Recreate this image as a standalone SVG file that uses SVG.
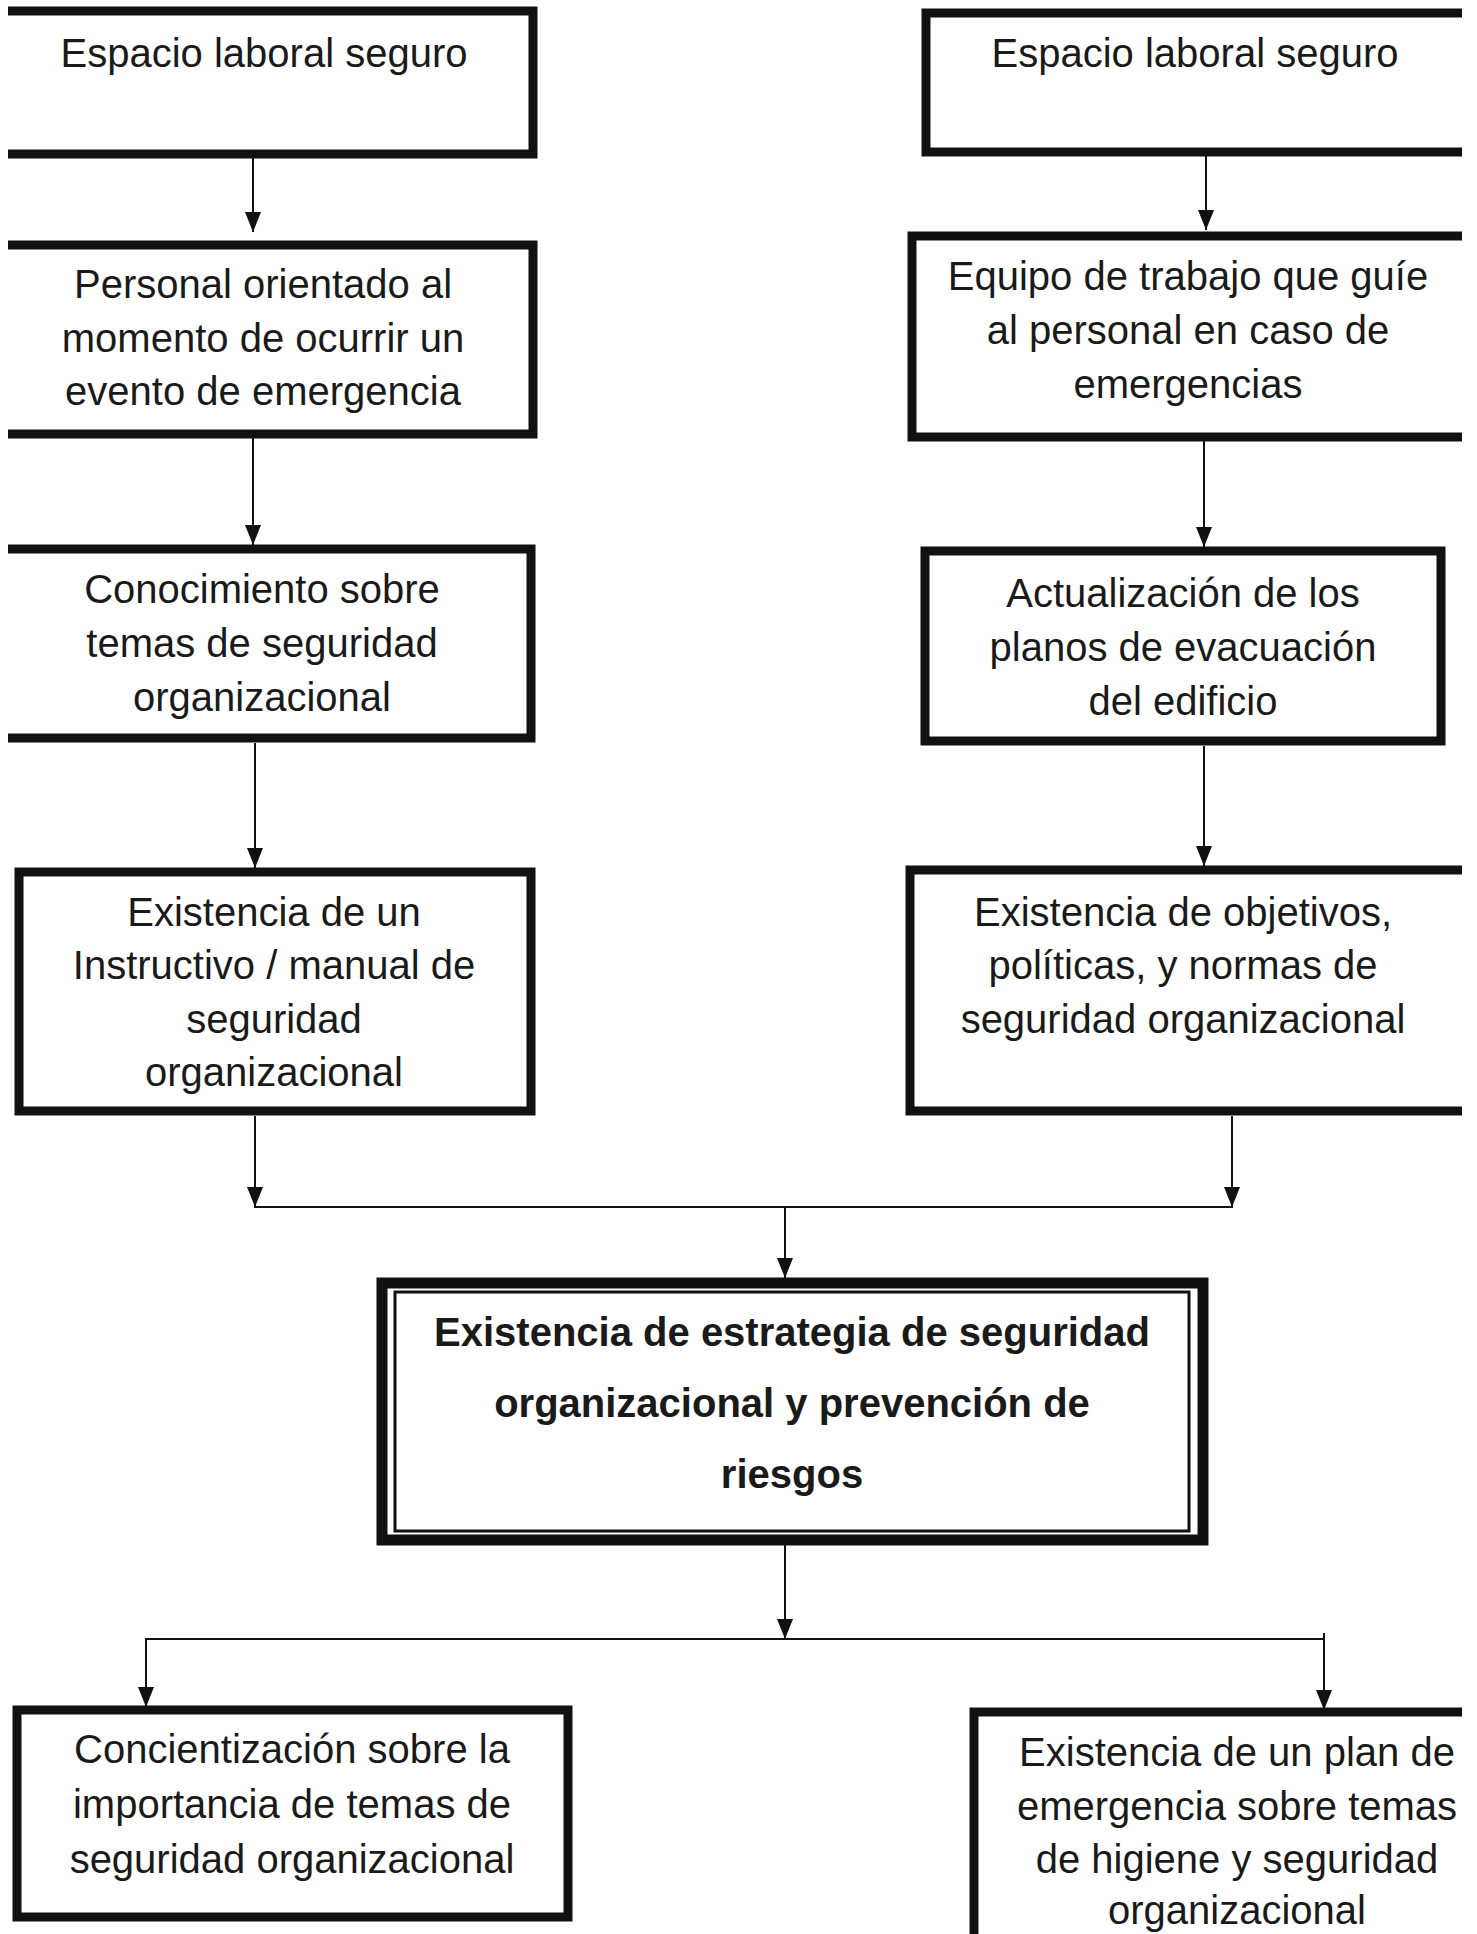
<svg xmlns="http://www.w3.org/2000/svg" width="1477" height="1934" viewBox="0 0 1477 1934">
<style>
.box{fill:none;stroke:#111;stroke-width:9}
.t{font-family:"Liberation Sans",Arial,sans-serif;font-size:40px;fill:#1a1a1a;text-anchor:middle}
.b{font-weight:bold}
.c{fill:none;stroke:#111;stroke-width:2}
</style>
<defs>
<marker id="ah" viewBox="0 0 20 16" refX="20" refY="8" markerWidth="20" markerHeight="16" markerUnits="userSpaceOnUse" orient="auto">
<path d="M0,0 L20,8 L0,16 z" fill="#111"/>
</marker>
</defs>
<rect width="1477" height="1934" fill="#fff"/>
<g id="connectors">
<line class="c" x1="253" y1="158" x2="253" y2="232" marker-end="url(#ah)"/>
<line class="c" x1="253" y1="438" x2="253" y2="545" marker-end="url(#ah)"/>
<line class="c" x1="255" y1="743" x2="255" y2="868" marker-end="url(#ah)"/>
<line class="c" x1="255" y1="1116" x2="255" y2="1207" marker-end="url(#ah)"/>
<line class="c" x1="1206" y1="156" x2="1206" y2="230" marker-end="url(#ah)"/>
<line class="c" x1="1204" y1="441" x2="1204" y2="547" marker-end="url(#ah)"/>
<line class="c" x1="1204" y1="746" x2="1204" y2="866" marker-end="url(#ah)"/>
<line class="c" x1="1232" y1="1116" x2="1232" y2="1207" marker-end="url(#ah)"/>
<line class="c" x1="254" y1="1207" x2="1233" y2="1207"/>
<line class="c" x1="785" y1="1207" x2="785" y2="1278" marker-end="url(#ah)"/>
<line class="c" x1="785" y1="1545" x2="785" y2="1639" marker-end="url(#ah)"/>
<line class="c" x1="145" y1="1639" x2="1325" y2="1639"/>
<line class="c" x1="146" y1="1639" x2="146" y2="1707" marker-end="url(#ah)"/>
<line class="c" x1="1324" y1="1633" x2="1324" y2="1710" marker-end="url(#ah)"/>
</g>
<g id="l1">
<path class="box" d="M8,11 H533 V154 H8"/>
<text class="t" x="264" y="67">Espacio laboral seguro</text>
</g>
<g id="l2">
<path class="box" d="M8,245 H533 V434 H8"/>
<text class="t" x="263" y="298">Personal orientado al</text>
<text class="t" x="263" y="352">momento de ocurrir un</text>
<text class="t" x="263" y="405">evento de emergencia</text>
</g>
<g id="l3">
<path class="box" d="M8,549 H531 V738 H8"/>
<text class="t" x="262" y="603">Conocimiento sobre</text>
<text class="t" x="262" y="657">temas de seguridad</text>
<text class="t" x="262" y="711">organizacional</text>
</g>
<g id="l4">
<rect class="box" x="19" y="872" width="512" height="239"/>
<text class="t" x="274" y="926">Existencia de un</text>
<text class="t" x="274" y="979">Instructivo / manual de</text>
<text class="t" x="274" y="1033">seguridad</text>
<text class="t" x="274" y="1086">organizacional</text>
</g>
<g id="r1">
<path class="box" d="M1462,13 H926 V152 H1462"/>
<text class="t" x="1195" y="67">Espacio laboral seguro</text>
</g>
<g id="r2">
<path class="box" d="M1462,236 H912 V437 H1462"/>
<text class="t" x="1188" y="290">Equipo de trabajo que guíe</text>
<text class="t" x="1188" y="344">al personal en caso de</text>
<text class="t" x="1188" y="398">emergencias</text>
</g>
<g id="r3">
<rect class="box" x="925" y="551" width="516" height="190"/>
<text class="t" x="1183" y="607">Actualización de los</text>
<text class="t" x="1183" y="661">planos de evacuación</text>
<text class="t" x="1183" y="715">del edificio</text>
</g>
<g id="r4">
<path class="box" d="M1462,870 H910 V1111 H1462"/>
<text class="t" x="1183" y="926">Existencia de objetivos,</text>
<text class="t" x="1183" y="979">políticas, y normas de</text>
<text class="t" x="1183" y="1033">seguridad organizacional</text>
</g>
<g id="center">
<rect fill="none" stroke="#111" stroke-width="11" x="382" y="1283" width="821" height="257"/>
<rect fill="none" stroke="#111" stroke-width="3" x="395" y="1292" width="794" height="239"/>
<text class="t b" x="792" y="1346">Existencia de estrategia de seguridad</text>
<text class="t b" x="792" y="1417">organizacional y prevención de</text>
<text class="t b" x="792" y="1488">riesgos</text>
</g>
<g id="b1">
<rect class="box" x="17" y="1710" width="551" height="207"/>
<text class="t" x="292" y="1763">Concientización sobre la</text>
<text class="t" x="292" y="1818">importancia de temas de</text>
<text class="t" x="292" y="1873">seguridad organizacional</text>
</g>
<g id="b2">
<path class="box" d="M1462,1712 H974 V1945"/>
<text class="t" x="1237" y="1766">Existencia de un plan de</text>
<text class="t" x="1237" y="1820">emergencia sobre temas</text>
<text class="t" x="1237" y="1873">de higiene y seguridad</text>
<text class="t" x="1237" y="1924">organizacional</text>
</g>
</svg>
